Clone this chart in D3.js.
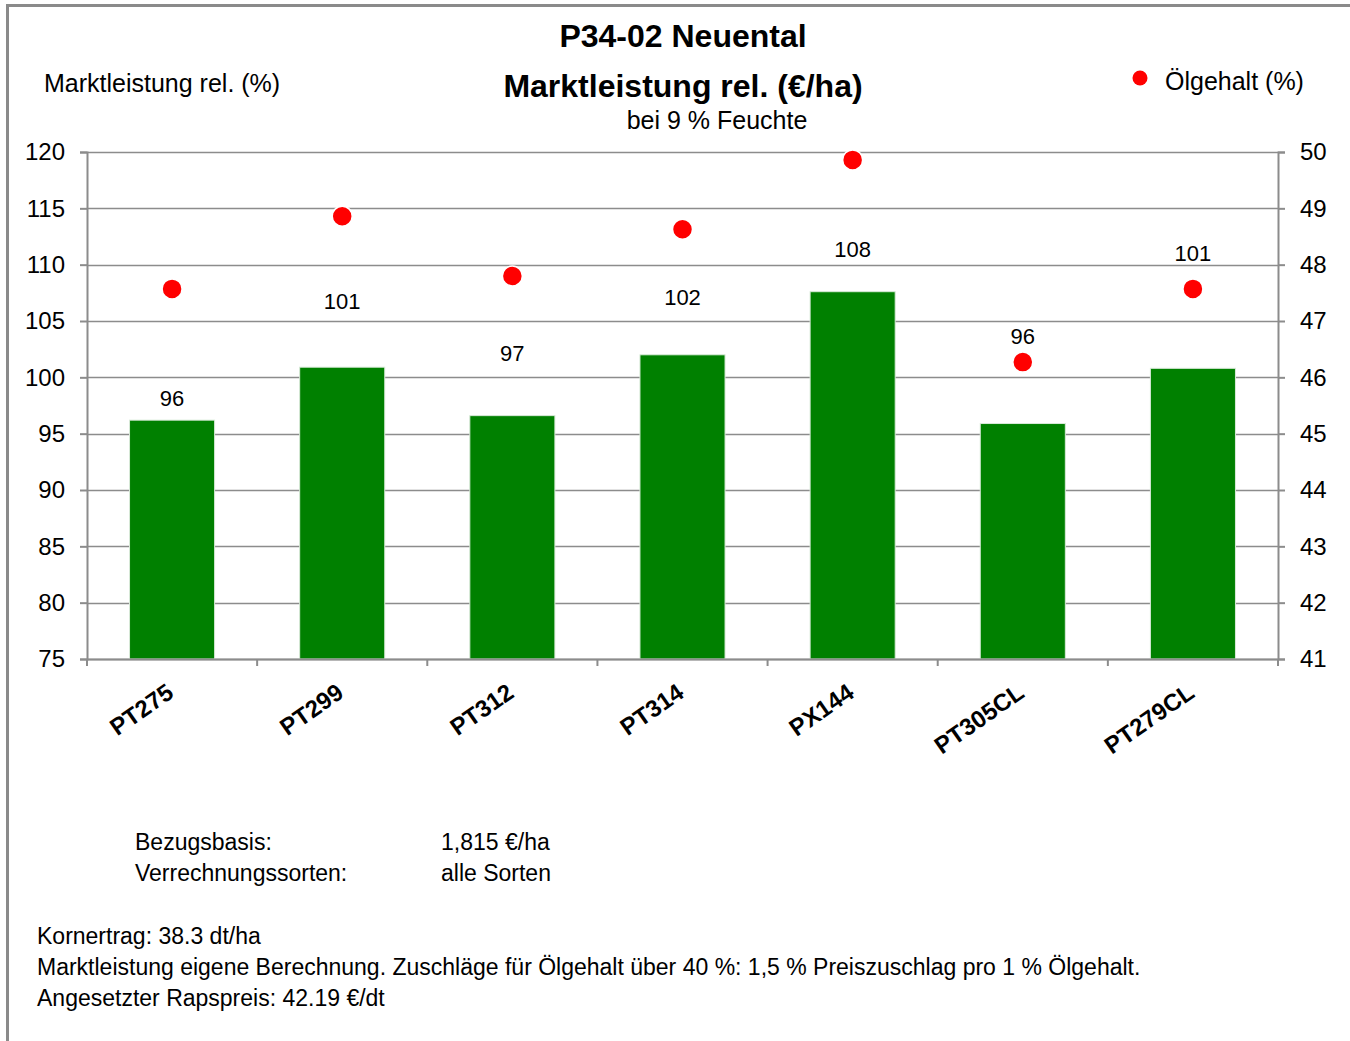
<!DOCTYPE html>
<html lang="de">
<head>
  <meta charset="UTF-8">
  <title>P34-02 Neuental</title>
  <style>
    body { margin: 0; background: #fff; }
    svg text { font-family: "Liberation Sans", Arial, sans-serif; fill: #000; }
  </style>
</head>
<body>
<svg id="chart" width="1350" height="1041"></svg>

<script src="https://d3js.org/d3.v7.min.js"></script>
<script>
/* global d3 */

// data
var sorten = ["PT275", "PT299", "PT312", "PT314", "PX144", "PT305CL", "PT279CL"];
var marktleistung = [96.2, 100.9, 96.6, 102.0, 107.6, 95.9, 100.8];
var labels = ["96", "101", "97", "102", "108", "96", "101"];
var labelAt = [98.2, 106.8, 102.2, 107.1, 111.4, 103.7, 111.0];   // where Excel put the labels (left axis units)
var oelgehalt = [47.57, 48.86, 47.80, 48.63, 49.86, 46.27, 47.57];
var leftTicks = [75, 80, 85, 90, 95, 100, 105, 110, 115, 120];
var rightTicks = [41, 42, 43, 44, 45, 46, 47, 48, 49, 50];
var infoRows = [["Bezugsbasis:", "1,815 €/ha"], ["Verrechnungssorten:", "alle Sorten"]];
var notes = [
  "Kornertrag: 38.3 dt/ha",
  "Marktleistung eigene Berechnung. Zuschläge für Ölgehalt über 40 %: 1,5 % Preiszuschlag pro 1 % Ölgehalt.",
  "Angesetzter Rapspreis: 42.19 €/dt"
];

var svg = d3.select("#chart"),
  plotL = 87, plotR = 1278, plotT = 152, plotB = 659,
  grey = "#8c8c8c";

var x = d3.scaleBand().domain(sorten).range([plotL, plotR]).paddingInner(0).paddingOuter(0);
var y = d3.scaleLinear().domain([75, 120]).range([plotB, plotT]);
var y2 = d3.scaleLinear().domain([41, 50]).range([plotB, plotT]);

// outer frame (only top and left visible)
svg.append("path")
  .attr("d", "M7.5,1041 V5.5 H1350")
  .attr("fill", "none")
  .attr("stroke", "#8a8a8a")
  .attr("stroke-width", 3);

// gridlines
svg.append("g")
  .selectAll("line")
  .data(leftTicks)
  .join("line")
  .attr("x1", plotL).attr("x2", plotR)
  .attr("y1", function (d) { return Math.round(y(d)) + 0.5; })
  .attr("y2", function (d) { return Math.round(y(d)) + 0.5; })
  .attr("stroke", grey)
  .attr("stroke-width", 1.5);

// bars
svg.append("g")
  .selectAll("rect")
  .data(marktleistung)
  .join("rect")
  .attr("x", function (d, i) { return x(sorten[i]) + x.bandwidth() * 0.25; })
  .attr("width", x.bandwidth() * 0.5)
  .attr("y", function (d) { return y(d); })
  .attr("height", function (d) { return y(75) - y(d); })
  .attr("fill", "#008000")
  .attr("stroke", "#d9ead9")
  .attr("stroke-width", 1);

// left axis
var axL = svg.append("g")
  .attr("transform", "translate(" + plotL + ",0)")
  .call(d3.axisLeft(y).tickValues(leftTicks).tickSize(7).tickPadding(15));
// right axis
var axR = svg.append("g")
  .attr("transform", "translate(" + plotR + ",0)")
  .call(d3.axisRight(y2).tickValues(rightTicks).tickSize(7).tickPadding(15));
// bottom axis, ticks on category boundaries
var bounds = sorten.map(function (s) { return x(s); }).concat([plotR]);
var axB = svg.append("g");
axB.append("line")
  .attr("x1", plotL).attr("x2", plotR)
  .attr("y1", plotB + 0.5).attr("y2", plotB + 0.5)
  .attr("stroke", grey).attr("stroke-width", 2);
axB.selectAll("line.tk")
  .data(bounds)
  .join("line")
  .attr("class", "tk")
  .attr("x1", function (d) { return d; }).attr("x2", function (d) { return d; })
  .attr("y1", plotB).attr("y2", plotB + 7)
  .attr("stroke", grey).attr("stroke-width", 2);

[axL, axR].forEach(function (g) {
  g.select(".domain").attr("stroke", grey).attr("stroke-width", 2);
  g.selectAll(".tick line").attr("stroke", grey).attr("stroke-width", 2);
  g.selectAll(".tick text").style("font-size", "24px").attr("fill", "#000");
});

// category labels
svg.append("g")
  .selectAll("text")
  .data(sorten)
  .join("text")
  .attr("transform", function (d) {
    return "translate(" + (x(d) + x.bandwidth() / 2 + 3) + "," + (plotB + 37) + ") rotate(-35)";
  })
  .attr("text-anchor", "end")
  .style("font-size", "24px")
  .style("font-weight", "bold")
  .text(function (d) { return d; });

// value labels
svg.append("g")
  .selectAll("text")
  .data(labels)
  .join("text")
  .attr("x", function (d, i) { return x(sorten[i]) + x.bandwidth() / 2; })
  .attr("y", function (d, i) { return y(labelAt[i]) + 8; })
  .attr("text-anchor", "middle")
  .style("font-size", "22px")
  .text(function (d) { return d; });

// oil content dots
svg.append("g")
  .selectAll("circle")
  .data(oelgehalt)
  .join("circle")
  .attr("cx", function (d, i) { return x(sorten[i]) + x.bandwidth() / 2; })
  .attr("cy", function (d) { return y2(d); })
  .attr("r", 10)
  .attr("fill", "#ff0000")
  .attr("stroke", "#fff")
  .attr("stroke-width", 1.5);

// titles
svg.append("text").attr("x", 683).attr("y", 47).attr("text-anchor", "middle")
  .style("font-size", "32px").style("font-weight", "bold").text("P34-02 Neuental");
svg.append("text").attr("x", 683).attr("y", 97).attr("text-anchor", "middle")
  .style("font-size", "32px").style("font-weight", "bold").text("Marktleistung rel. (€/ha)");
svg.append("text").attr("x", 717).attr("y", 129).attr("text-anchor", "middle")
  .style("font-size", "25px").text("bei 9 % Feuchte");

// axis title / legend
svg.append("text").attr("x", 44).attr("y", 92).style("font-size", "25px").text("Marktleistung rel. (%)");
svg.append("circle").attr("cx", 1140).attr("cy", 78).attr("r", 7.5).attr("fill", "#ff0000");
svg.append("text").attr("x", 1165).attr("y", 90).style("font-size", "25px").text("Ölgehalt (%)");

// info block
var info = svg.append("g");
infoRows.forEach(function (r, i) {
  info.append("text").attr("x", 135).attr("y", 850 + i * 31).style("font-size", "23px").text(r[0]);
  info.append("text").attr("x", 441).attr("y", 850 + i * 31).style("font-size", "23px").text(r[1]);
});
notes.forEach(function (t, i) {
  info.append("text").attr("x", 37).attr("y", 944 + i * 31).style("font-size", "23px").text(t);
});
</script>
</body>
</html>
